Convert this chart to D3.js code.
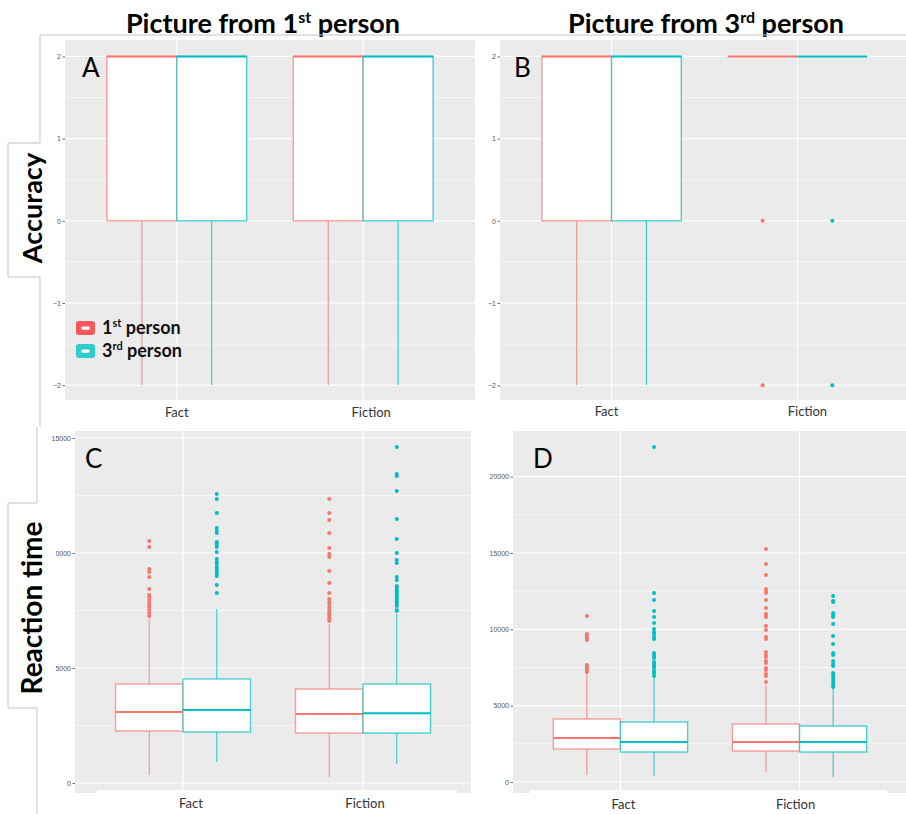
<!DOCTYPE html>
<html>
<head>
<meta charset="utf-8">
<script src="https://cdn.jsdelivr.net/npm/d3@7"></script>
<style>
  html, body { margin: 0; padding: 0; background: #fff; }
  svg { display: block; }
</style>
</head>
<body>
<svg id="chart" width="906" height="814"></svg>
<script>
// ---- data ----------------------------------------------------------------
const categories = ["Fact", "Fiction"];
const groups = ["1st person", "3rd person"];
// box statistics per box, order: Fact-1st, Fact-3rd, Fiction-1st, Fiction-3rd
// [lower whisker, Q1, median, Q3, upper whisker]
const accFirstBoxes = [[-2, 0, 2, 2, 2], [-2, 0, 2, 2, 2], [-2, 0, 2, 2, 2], [-2, 0, 2, 2, 2]];
const accFirstOutliers = [[], [], [], []];
const accThirdBoxes = [[-2, 0, 2, 2, 2], [-2, 0, 2, 2, 2], [2, 2, 2, 2, 2], [2, 2, 2, 2, 2]];
const accThirdOutliers = [[], [], [0, -2], [0, -2]];

const rtFirstBoxes = [
  [348, 2261, 3087, 4304, 7150],
  [913, 2217, 3174, 4522, 7565],
  [261, 2174, 3000, 4087, 6900],
  [826, 2174, 3030, 4304, 7350]
];
const rtFirstOutliers = [
  [10522, 10261, 9304, 9174, 8957, 8435, 8174, 8087, 7957, 7826, 7739, 7652, 7522, 7391, 7261],
  [12565, 12348, 11739, 11087, 10957, 10870, 10478, 10435, 10348, 10261, 10043, 9739, 9609, 9522,
   9391, 9304, 9174, 9087, 9000, 8609, 8261],
  [12348, 11739, 11435, 10870, 10217, 9957, 9826, 9217, 8696, 8261, 8000, 7870, 7783, 7652, 7522,
   7391, 7304, 7217, 7130, 7040],
  [14609, 13435, 13348, 12696, 11478, 10609, 10000, 9696, 9565, 8957, 8826, 8565, 8522, 8435, 8348,
   8304, 8217, 8130, 8087, 8000, 7913, 7870, 7783, 7696, 7522, 7478]
];
const rtThirdBoxes = [
  [459, 2162, 2882, 4127, 7050],
  [393, 1965, 2620, 3930, 6850],
  [655, 2031, 2620, 3799, 6350],
  [328, 1965, 2620, 3668, 6150]
];
const rtThirdOutliers = [
  [10873, 9694, 9563, 9432, 9301, 7664, 7533, 7467, 7336, 7205],
  [21943, 12380, 11921, 11201, 10808, 10415, 10022, 9825, 9694, 9498, 9367, 8450, 8319, 8188, 8122,
   7860, 7729, 7598, 7467, 7271, 7140, 6943],
  [15262, 14279, 13559, 12642, 12511, 12380, 11921, 11397, 11004, 10939, 10808, 10218, 9956, 9498,
   9367, 8515, 8319, 8188, 7926, 7795, 7467, 7336, 7074, 6943, 6550],
  [12183, 11856, 11790, 11070, 10939, 10808, 10349, 9563, 9039, 8450, 8319, 7926, 7729, 7598, 7140,
   7009, 6878, 6681, 6485, 6354, 6223]
];

const accTicks = [-2, -1, 0, 1, 2];
const accMinor = [-1.5, -0.5, 0.5, 1.5];
const rtFirstTicks = [0, 5000, 10000, 15000];
const rtFirstMinor = [2500, 7500, 12500];
const rtThirdTicks = [0, 5000, 10000, 15000, 20000];
const rtThirdMinor = [2500, 7500, 12500, 17500];

// ---- styling ---------------------------------------------------------------
const colors = ["#F8766D", "#00BFC4"];
const legendColors = ["#F65A5A", "#33CCCC"];
const calibriLike = "Lato, 'Open Sans', sans-serif";
const tickFont = "'Liberation Sans', Arial, sans-serif";
const frameColor = "#C4C4C4";

const svg = d3.select("#chart");

// ---- column headers --------------------------------------------------------
function header(cx, num, sup) {
  const t = svg.append("text")
    .attr("x", cx).attr("y", 33)
    .attr("text-anchor", "middle")
    .attr("font-family", calibriLike)
    .attr("font-weight", 700)
    .attr("font-size", 27)
    .attr("fill", "#000");
  t.append("tspan").text("Picture from " + num);
  t.append("tspan").attr("font-size", 16).attr("dy", -10).text(sup);
  t.append("tspan").attr("dy", 10).text(" person");
}
header(263, "1", "st");
header(706, "3", "rd");

// ---- panels ------------------------------------------------------------------
function drawPanel(cfg) {
  const g = svg.append("g");
  const x = d3.scalePoint().domain(categories).range([cfg.x0, cfg.x1]).padding(0.6);
  const y = d3.scaleLinear().domain(cfg.domain).range([cfg.y1, cfg.y0]);
  const step = x.step();
  const half = step * 0.1875;

  g.append("rect")
    .attr("x", cfg.x0).attr("y", cfg.y0)
    .attr("width", cfg.x1 - cfg.x0).attr("height", cfg.y1 - cfg.y0)
    .attr("fill", "#EBEBEB");

  g.selectAll(".minor").data(cfg.minor).join("line")
    .attr("x1", cfg.x0).attr("x2", cfg.x1)
    .attr("y1", d => y(d)).attr("y2", d => y(d))
    .attr("stroke", "#fff").attr("stroke-width", 0.6);
  g.selectAll(".major").data(cfg.ticks).join("line")
    .attr("x1", cfg.x0).attr("x2", cfg.x1)
    .attr("y1", d => y(d)).attr("y2", d => y(d))
    .attr("stroke", "#fff").attr("stroke-width", 1.2);
  g.selectAll(".vmajor").data(categories).join("line")
    .attr("x1", d => x(d)).attr("x2", d => x(d))
    .attr("y1", cfg.y0).attr("y2", cfg.y1)
    .attr("stroke", "#fff").attr("stroke-width", 1.2);

  const items = [];
  categories.forEach((c, ci) => groups.forEach((grp, gi) => {
    const k = ci * 2 + gi;
    items.push({ cx: x(c) + (gi === 0 ? -half : half), col: colors[gi],
                 s: cfg.boxes[k], out: cfg.outliers[k] });
  }));

  items.forEach(it => {
    const [lo, q1, med, q3, hi] = it.s;
    const bg = g.append("g");
    bg.append("line")
      .attr("x1", it.cx).attr("x2", it.cx)
      .attr("y1", y(q3)).attr("y2", y(hi))
      .attr("stroke", it.col).attr("stroke-width", 1).attr("stroke-opacity", 0.85);
    bg.append("line")
      .attr("x1", it.cx).attr("x2", it.cx)
      .attr("y1", y(q1)).attr("y2", y(lo))
      .attr("stroke", it.col).attr("stroke-width", 1).attr("stroke-opacity", 0.85);
    bg.append("rect")
      .attr("x", it.cx - half).attr("y", y(q3))
      .attr("width", half * 2).attr("height", Math.max(0, y(q1) - y(q3)))
      .attr("fill", "#fff")
      .attr("stroke", it.col).attr("stroke-width", 1.4).attr("stroke-opacity", 0.7);
    bg.append("line")
      .attr("x1", it.cx - half).attr("x2", it.cx + half)
      .attr("y1", y(med)).attr("y2", y(med))
      .attr("stroke", it.col).attr("stroke-width", 2);
    bg.selectAll("circle").data(it.out).join("circle")
      .attr("cx", it.cx).attr("cy", d => y(d)).attr("r", 2)
      .attr("fill", it.col);
  });

  const ax = g.append("g")
    .attr("transform", `translate(${cfg.x0},0)`)
    .call(d3.axisLeft(y).tickValues(cfg.ticks).tickSize(2.5).tickPadding(1.5)
      .tickFormat(d3.format("d")));
  ax.select(".domain").remove();
  ax.selectAll(".tick line").attr("stroke", "#444").attr("stroke-width", 0.8);
  ax.selectAll(".tick text")
    .attr("font-family", tickFont).attr("font-size", 7).attr("fill", "#555");

  if (cfg.cover) {
    svg.append("rect")
      .attr("x", cfg.cover[0]).attr("y", cfg.y1 - 3)
      .attr("width", cfg.cover[1] - cfg.cover[0]).attr("height", 30)
      .attr("fill", "#fff");
  }

  svg.append("g").selectAll("text").data(categories).join("text")
    .attr("x", (d, i) => x(d) + cfg.labelDx[i])
    .attr("y", cfg.labelY)
    .attr("text-anchor", "middle")
    .attr("font-family", calibriLike)
    .attr("font-size", 13)
    .attr("fill", "#333")
    .text(d => d);

  svg.append("text")
    .attr("x", cfg.letterX).attr("y", cfg.y0 + 37)
    .attr("font-family", calibriLike)
    .attr("font-size", 26)
    .attr("fill", "#000")
    .text(cfg.letter);

  return { x, y };
}

drawPanel({ x0: 65, x1: 475, y0: 40, y1: 400, domain: [-2.18, 2.2],
  ticks: accTicks, minor: accMinor, boxes: accFirstBoxes, outliers: accFirstOutliers,
  letter: "A", letterX: 82, labelY: 417, labelDx: [0, 8] });
drawPanel({ x0: 500, x1: 909, y0: 40, y1: 400, domain: [-2.18, 2.2],
  ticks: accTicks, minor: accMinor, boxes: accThirdBoxes, outliers: accThirdOutliers,
  letter: "B", letterX: 514, labelY: 416, labelDx: [-5, 10] });
drawPanel({ x0: 75, x1: 471, y0: 431, y1: 793, domain: [-435, 15304],
  ticks: rtFirstTicks, minor: rtFirstMinor, boxes: rtFirstBoxes, outliers: rtFirstOutliers,
  letter: "C", letterX: 85, labelY: 808, labelDx: [8, 2], cover: [97, 457] });
drawPanel({ x0: 513, x1: 907, y0: 431, y1: 793, domain: [-720, 22990],
  ticks: rtThirdTicks, minor: rtThirdMinor, boxes: rtThirdBoxes, outliers: rtThirdOutliers,
  letter: "D", letterX: 533, labelY: 809, labelDx: [3, -4], cover: [530, 887] });

// ---- frame lines and row titles ---------------------------------------------
svg.append("path")
  .attr("d", "M40,35 H906 M40,35 V143 H8 V277 H40 V427 M37,427 V503 H8 V708 H37 V814")
  .attr("fill", "none").attr("stroke", frameColor).attr("stroke-width", 1);
// cover strip beside the reaction-time tick labels
svg.append("rect").attr("x", 49).attr("y", 547).attr("width", 7).attr("height", 12).attr("fill", "#fff");

function rowTitle(cx, cy, label, size) {
  svg.append("text")
    .attr("transform", `translate(${cx},${cy}) rotate(-90)`)
    .attr("text-anchor", "middle")
    .attr("font-family", calibriLike)
    .attr("font-weight", 700)
    .attr("font-size", size)
    .attr("fill", "#000")
    .text(label);
}
rowTitle(42, 208, "Accuracy", 27);
rowTitle(42, 608, "Reaction time", 28);

// ---- legend ------------------------------------------------------------------
const legend = svg.append("g");
const supText = ["st", "rd"];
const legNum = ["1", "3"];
groups.forEach((grp, i) => {
  const yy = 321 + i * 23;
  legend.append("rect")
    .attr("x", 76).attr("y", yy).attr("width", 19).attr("height", 14).attr("rx", 3)
    .attr("fill", legendColors[i]);
  legend.append("rect")
    .attr("x", 81.5).attr("y", yy + 5.5).attr("width", 8).attr("height", 3.2).attr("rx", 1)
    .attr("fill", "#fff");
  const t = legend.append("text")
    .attr("x", 102).attr("y", yy + 13)
    .attr("font-family", calibriLike).attr("font-weight", 700)
    .attr("font-size", 18).attr("fill", "#111");
  t.append("tspan").text(legNum[i]);
  t.append("tspan").attr("font-size", 11).attr("dy", -7).text(supText[i]);
  t.append("tspan").attr("dy", 7).text(" person");
});
</script>
</body>
</html>
